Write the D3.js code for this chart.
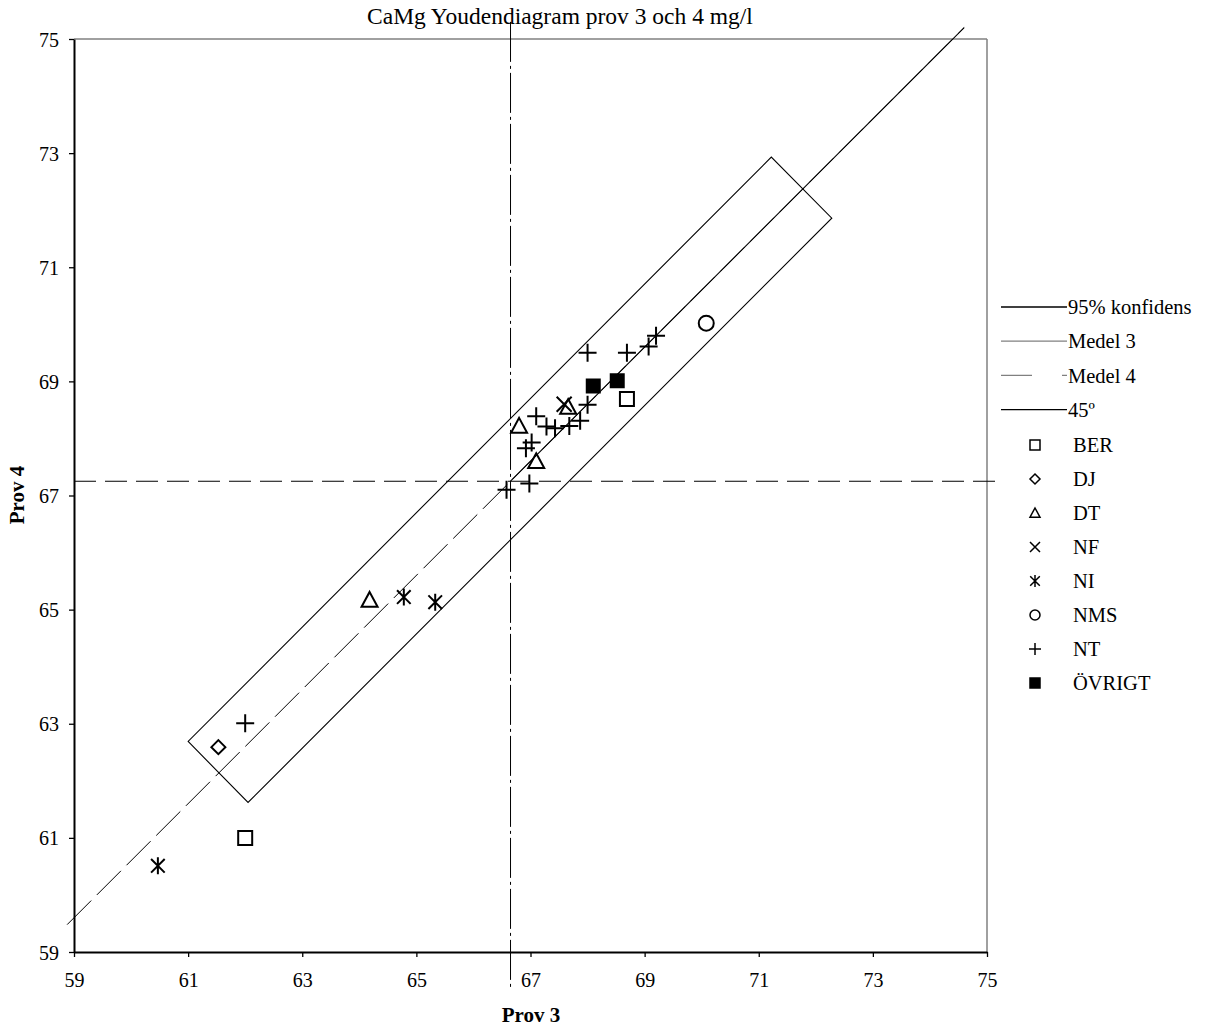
<!DOCTYPE html>
<html>
<head>
<meta charset="utf-8">
<script src="https://cdn.jsdelivr.net/npm/d3@7"></script>
<style>
  body { margin: 0; background: #fff; }
  text { font-family: "Liberation Serif", "Times New Roman", serif; fill: #000; }
</style>
</head>
<body>
<svg width="1210" height="1032"></svg>
<script>
// data
var ticks = [59, 61, 63, 65, 67, 69, 71, 73, 75];
var medel3 = 66.65;
var medel4 = 67.25;
var konfidens = [[61.0, 62.69], [62.05, 61.62], [72.28, 71.86], [71.22, 72.93]];

var BER = [[62.0, 61.0], [68.69, 68.69]];
var DJ = [[61.53, 62.59]];
var DT = [[64.18, 65.17], [66.8, 68.22], [67.1, 67.6], [67.66, 68.55]];
var NF = [[67.59, 68.6]];
var NI = [[60.47, 60.51], [64.78, 65.22], [65.33, 65.13]];
var NMS = [[70.08, 70.02]];
var NT = [[62.0, 63.01], [66.58, 67.1], [66.98, 67.21], [66.92, 67.83], [67.02, 67.93],
          [67.1, 68.39], [67.28, 68.21], [67.43, 68.18], [67.68, 68.22], [67.87, 68.31],
          [68.0, 68.59], [68.0, 69.5], [68.69, 69.5], [69.07, 69.61], [69.2, 69.8]];
var OVRIGT = [[68.1, 68.92], [68.52, 69.01]];

var series = [
  {name: "BER", type: "square", data: BER},
  {name: "DJ", type: "diamond", data: DJ},
  {name: "DT", type: "triangle", data: DT},
  {name: "NF", type: "x", data: NF},
  {name: "NI", type: "star", data: NI},
  {name: "NMS", type: "circle", data: NMS},
  {name: "NT", type: "plus", data: NT},
  {name: "ÖVRIGT", type: "filled", data: OVRIGT}
];

var svg = d3.select("svg");
var x = d3.scaleLinear().domain([59, 75]).range([74, 987]);
var y = d3.scaleLinear().domain([59, 75]).range([952, 39]);

// ram runt plottytan
svg.append("line").attr("x1", 74).attr("x2", 987).attr("y1", 39).attr("y2", 39)
  .attr("stroke", "#808080").attr("stroke-width", 1.5);
svg.append("line").attr("x1", 987).attr("x2", 987).attr("y1", 39).attr("y2", 952)
  .attr("stroke", "#808080").attr("stroke-width", 1.5);

// axlar
var xAxis = svg.append("g").attr("transform", "translate(0,952)")
  .call(d3.axisBottom(x).tickValues(ticks).tickSize(5).tickSizeOuter(0).tickFormat(d3.format("d")));
var yAxis = svg.append("g").attr("transform", "translate(74,0)")
  .call(d3.axisLeft(y).tickValues(ticks).tickSize(5).tickSizeOuter(0).tickFormat(d3.format("d")));
[xAxis, yAxis].forEach(function(a) {
  a.select(".domain").attr("stroke", "#000").attr("stroke-width", 2);
  a.selectAll(".tick line").attr("stroke", "#000").attr("stroke-width", 1.3);
  a.selectAll(".tick text").style("font-family", "Liberation Serif").style("font-size", "20px");
});
xAxis.selectAll(".tick text").attr("dy", "1.35em");
yAxis.selectAll(".tick text").attr("x", -15).attr("dy", "0.35em");

// medel-linjer
svg.append("line")
  .attr("x1", x(medel3)).attr("x2", x(medel3))
  .attr("y1", y(75.3)).attr("y2", y(58.35))
  .attr("stroke", "#000").attr("stroke-width", 1)
  .attr("stroke-dasharray", "40,4,3,4");
svg.append("line")
  .attr("x1", x(59)).attr("x2", x(75.17))
  .attr("y1", y(medel4)).attr("y2", y(medel4))
  .attr("stroke", "#000").attr("stroke-width", 1.2)
  .attr("stroke-dasharray", "22,9");

// 45 grader
var diff = medel4 - medel3;
svg.append("line")
  .attr("x1", x(58.88)).attr("y1", y(58.88 + diff))
  .attr("x2", x(74.6)).attr("y2", y(74.6 + diff))
  .attr("stroke", "#000").attr("stroke-width", 1)
  .attr("stroke-dasharray", "34,8");
svg.append("line")
  .attr("x1", x(medel3)).attr("y1", y(medel4))
  .attr("x2", x(74.6)).attr("y2", y(74.6 + diff))
  .attr("stroke", "#000").attr("stroke-width", 1.1);

// 95% konfidens
svg.append("path")
  .attr("d", d3.line().x(function(d) { return x(d[0]); }).y(function(d) { return y(d[1]); })(konfidens) + "Z")
  .attr("fill", "none").attr("stroke", "#000").attr("stroke-width", 1.1);

// symboler
function symbolPath(type, s) {
  var h = s / 2;
  if (type == "square" || type == "filled") return "M" + (-h) + "," + (-h) + "H" + h + "V" + h + "H" + (-h) + "Z";
  if (type == "diamond") return "M0," + (-h) + "L" + h + ",0L0," + h + "L" + (-h) + ",0Z";
  if (type == "triangle") return "M0," + (-h) + "L" + h + "," + (h * 0.85) + "L" + (-h) + "," + (h * 0.85) + "Z";
  if (type == "x") return "M" + (-h) + "," + (-h) + "L" + h + "," + h + "M" + h + "," + (-h) + "L" + (-h) + "," + h;
  if (type == "plus") return "M" + (-h) + ",0H" + h + "M0," + (-h) + "V" + h;
  if (type == "star") return "M" + (-h * 0.8) + "," + (-h * 0.8) + "L" + (h * 0.8) + "," + (h * 0.8) +
    "M" + (h * 0.8) + "," + (-h * 0.8) + "L" + (-h * 0.8) + "," + (h * 0.8) + "M0," + (-h) + "V" + h;
  if (type == "circle") return d3.arc()({innerRadius: 0, outerRadius: h, startAngle: 0, endAngle: 2 * Math.PI});
}
var sizes = {square: 14, filled: 13, diamond: 14, triangle: 16, x: 15, plus: 18, star: 17, circle: 15};

series.forEach(function(s) {
  svg.append("g").selectAll("path")
    .data(s.data)
    .enter()
    .append("path")
    .attr("transform", function(d) { return "translate(" + x(d[0]) + "," + y(d[1]) + ")"; })
    .attr("d", symbolPath(s.type, sizes[s.type]))
    .attr("fill", s.type == "filled" ? "#000" : "none")
    .attr("stroke", "#000")
    .attr("stroke-width", 2);
});

// legend
var legLines = [
  {name: "95% konfidens", color: "#000", dash: null},
  {name: "Medel 3", color: "#808080", dash: null},
  {name: "Medel 4", color: "#808080", dash: "31,30"},
  {name: "45º", color: "#000", dash: null}
];
var lg = svg.append("g").selectAll("g")
  .data(legLines).enter().append("g")
  .attr("transform", function(d, i) { return "translate(1001," + (307 + i * 34.2) + ")"; });
lg.append("line").attr("x1", 0).attr("x2", 66).attr("y1", 0).attr("y2", 0)
  .attr("stroke", function(d) { return d.color; }).attr("stroke-width", 1.3)
  .attr("stroke-dasharray", function(d) { return d.dash; });
lg.append("text").attr("x", 67).attr("dy", "0.35em").style("font-size", "20.5px")
  .text(function(d) { return d.name; });

var ls = svg.append("g").selectAll("g")
  .data(series).enter().append("g")
  .attr("transform", function(d, i) { return "translate(1035," + (445 + i * 34.0) + ")"; });
ls.append("path")
  .attr("d", function(d) { return symbolPath(d.type, d.type == "plus" || d.type == "star" ? 12 : 10); })
  .attr("fill", function(d) { return d.type == "filled" ? "#000" : "none"; })
  .attr("stroke", "#000").attr("stroke-width", 1.5);
ls.append("text").attr("x", 38).attr("dy", "0.35em").style("font-size", "20.5px")
  .text(function(d) { return d.name; });

// titlar
svg.append("text").attr("x", 560).attr("y", 24).attr("text-anchor", "middle")
  .style("font-size", "23.5px").text("CaMg Youdendiagram prov 3 och 4 mg/l");
svg.append("text").attr("x", 531).attr("y", 1022).attr("text-anchor", "middle")
  .style("font-size", "21px").style("font-weight", "bold").text("Prov 3");
svg.append("text").attr("transform", "translate(24,495) rotate(-90)").attr("text-anchor", "middle")
  .style("font-size", "21px").style("font-weight", "bold").text("Prov 4");
</script>
</body>
</html>
